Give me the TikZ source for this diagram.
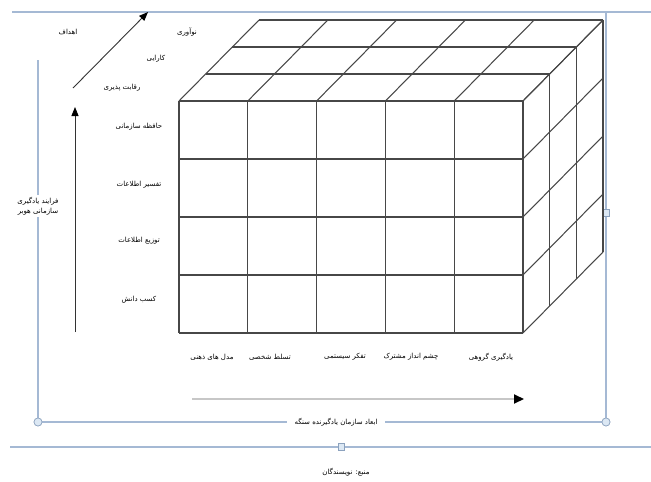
\documentclass[tikz,border=0pt]{standalone}
\usepackage{fontspec}
\newfontfamily\fa[Script=Arabic]{DejaVu Sans}
\TeXXeTstate=1
\usetikzlibrary{arrows.meta}
\definecolor{framec}{RGB}{165,185,212}
\definecolor{handlefill}{RGB}{220,232,244}
\definecolor{handledraw}{RGB}{140,162,190}
\begin{document}
\begin{tikzpicture}[x=1pt,y=-1pt,
  gridline/.style={draw=black!72, line width=1.05pt},
  frameline/.style={draw=framec, line width=1.1pt},
  lbl/.style={font=\fa\fontsize{7}{9}\selectfont, inner sep=1pt, text=black},
  ax/.style={draw=black!80, line width=0.9pt, -{Triangle[length=9pt,width=7pt,color=black]}},
  hax/.style={draw=black!22, line width=2pt, -{Triangle[length=10pt,width=9pt,color=black]}},
  circhandle/.style={circle, draw=handledraw, fill=handlefill, line width=0.6pt, minimum size=8pt, inner sep=0pt},
  sqhandle/.style={rectangle, draw=handledraw, fill=handlefill, line width=0.6pt, minimum width=6pt, minimum height=7pt, inner sep=0pt},
]
\useasboundingbox (0,0) rectangle (651,482);
\fill[white] (0,0) rectangle (651,482);

% frame lines
\coordinate (tl) at (12,12);
\coordinate (tr) at (651,12);
\coordinate (rtop) at (606,12);
\coordinate (ltop) at (38,60);
\coordinate (bl) at (10,447);
\coordinate (br) at (651,447);
\node[circhandle] (cl) at (38,422) {};
\node[circhandle] (cr) at (606,422) {};
\draw[frameline] (tl) -- (tr);
\draw[frameline] (bl) -- (br);
\draw[frameline] (rtop) -- (cr);
\draw[frameline] (ltop) -- (cl);
\draw[frameline] (cl) -- (cr);
\node[circhandle] at (38,422) {};
\node[circhandle] at (606,422) {};
\node[sqhandle] (sqr) at (606,213) {};
\node[sqhandle] (sqb) at (341,447) {};

% cube
\foreach \i in {0,...,5} {
  \pgfmathsetmacro{\xx}{179+68.8*\i}
  \draw[gridline] (\xx,101) -- (\xx,333);
  \draw[gridline] (\xx,101) -- (\xx+80,20);
}
\foreach \j in {0,...,4} {
  \pgfmathsetmacro{\yy}{101+58*\j}
  \draw[gridline] (179,\yy) -- (523,\yy);
  \draw[gridline] (523,\yy) -- (603,\yy-81);
}
\foreach \k in {1,...,3} {
  \pgfmathsetmacro{\dx}{26.67*\k}
  \pgfmathsetmacro{\dy}{27*\k}
  \draw[gridline] (179+\dx,101-\dy) -- (523+\dx,101-\dy);
  \draw[gridline] (523+\dx,101-\dy) -- (523+\dx,333-\dy);
}

% arrows
\coordinate (va1) at (75,332);
\coordinate (va2) at (75,107);
\coordinate (da1) at (73,88);
\coordinate (da2) at (148,12);
\coordinate (ha1) at (192,399);
\coordinate (ha2) at (524,399);
\draw[ax] (va1) -- (va2);
\draw[ax] (da1) -- (da2);
\draw[hax] (ha1) -- (ha2);

% labels
\node[lbl] (goals) at (68,32) {\beginR اهداف\endR};
\node[lbl] (g1) at (187,32) {\beginR نوآوری\endR};
\node[lbl] (g2) at (156,59) {\beginR کارایی\endR};
\node[lbl] (g3) at (122,88) {\beginR رقابت پذیری\endR};

\node[lbl] (p4) at (139,127) {\beginR حافظه سازمانی\endR};
\node[lbl] (p3) at (139,185) {\beginR تفسیر اطلاعات\endR};
\node[lbl] (p2) at (139,241) {\beginR توزیع اطلاعات\endR};
\node[lbl] (p1) at (139,300) {\beginR کسب دانش\endR};

\node[lbl, fill=white, align=center, inner sep=2pt] (huber) at (38,206) {\beginR فرایند یادگیری\endR\\[1pt]\beginR سازمانی هوبر\endR};

\node[lbl] (s1) at (212,357) {\beginR مدل های ذهنی\endR};
\node[lbl] (s2) at (270,357) {\beginR تسلط شخصی\endR};
\node[lbl] (s3) at (345,357) {\beginR تفکر سیستمی\endR};
\node[lbl] (s4) at (411,357) {\beginR چشم انداز مشترک\endR};
\node[lbl] (s5) at (491,357) {\beginR یادگیری گروهی\endR};

\node[lbl, fill=white, inner xsep=8pt] (senge) at (336,422) {\beginR ابعاد سازمان یادگیرنده سنگه\endR};
\node[lbl] (src) at (346,472) {\beginR منبع: نویسندگان\endR};
\end{tikzpicture}
\end{document}
